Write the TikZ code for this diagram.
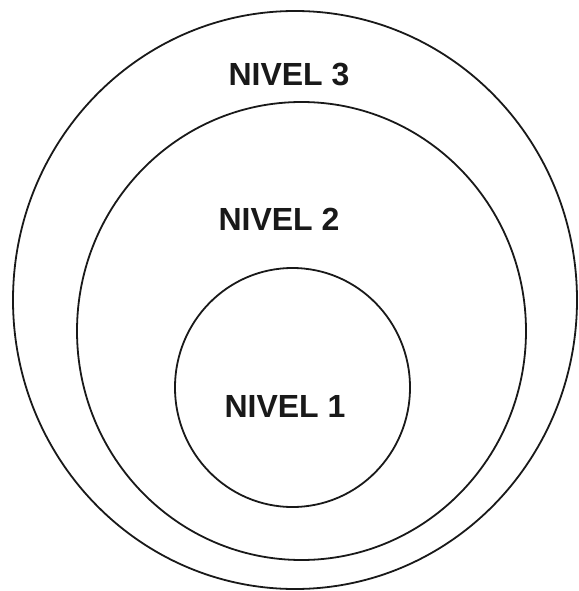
\documentclass[tikz,border=0pt]{standalone}
\usepackage{fontspec}
\setmainfont{Liberation Sans}
\begin{document}
\begin{tikzpicture}[x=1pt,y=-1pt,
  ring/.style={draw=black!90, line width=1.8pt},
  lvl/.style={font=\fontsize{32}{36}\selectfont\bfseries, anchor=base, inner sep=0pt, text=black!90}]
\useasboundingbox (0,0) rectangle (578,591);
\draw[ring] (295,300) ellipse [x radius=282, y radius=289];
\draw[ring] (301.5,331) ellipse [x radius=224.5, y radius=229];
\draw[ring] (292.5,387.5) ellipse [x radius=117.5, y radius=119.5];
\node[lvl] (n3) at (289,85.5) {NIVEL 3};
\node[lvl] (n2) at (279,230) {NIVEL 2};
\node[lvl] (n1) at (285,417) {NIVEL 1};
\end{tikzpicture}
\end{document}
